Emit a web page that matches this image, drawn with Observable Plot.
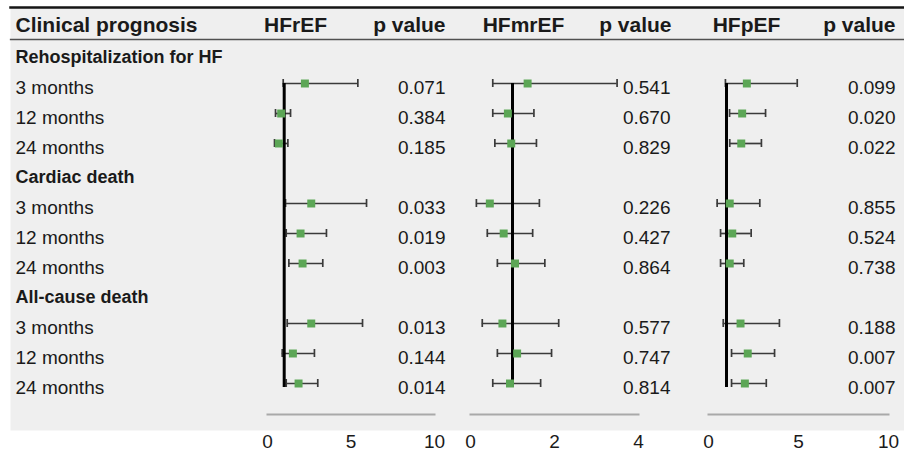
<!DOCTYPE html>
<html>
<head>
<meta charset="utf-8">
<script src="https://cdn.jsdelivr.net/npm/d3@7"></script>
<script src="https://cdn.jsdelivr.net/npm/@observablehq/plot@0.6"></script>
<style>
html, body { margin: 0; padding: 0; background: #fff; }
#chart { position: relative; width: 904px; height: 460px; overflow: hidden; background: #fff; }
#chart svg { position: absolute; top: 0; }
</style>
</head>
<body>
<div id="chart"></div>
<script>
// ---------------- data ----------------
const outcomes = ["Rehospitalization for HF", "Cardiac death", "All-cause death"];
const periods = ["3 months", "12 months", "24 months"];
const groups = ["HFrEF", "HFmrEF", "HFpEF"];
const firstColumnTitle = "Clinical prognosis";
const pColumnTitle = "p value";
const nullValue = 1;

// HFrEF (rows: rehosp 3/12/24, cardiac 3/12/24, all-cause 3/12/24)
const hfrefEst = [2.24, 0.82, 0.68, 2.62, 1.98, 2.10, 2.62, 1.52, 1.86];
const hfrefLo  = [0.94, 0.48, 0.42, 1.08, 1.12, 1.28, 1.18, 0.88, 1.12];
const hfrefHi  = [5.41, 1.38, 1.22, 5.93, 3.53, 3.31, 5.69, 2.81, 3.01];
const hfrefP   = ["0.071", "0.384", "0.185", "0.033", "0.019", "0.003", "0.013", "0.144", "0.014"];
const hfrefTicks = [0, 5, 10];

// HFmrEF
const hfmrefEst = [1.36, 0.89, 0.97, 0.46, 0.79, 1.06, 0.76, 1.11, 0.94];
const hfmrefLo  = [0.53, 0.53, 0.58, 0.14, 0.40, 0.64, 0.28, 0.64, 0.53];
const hfmrefHi  = [3.49, 1.51, 1.57, 1.64, 1.48, 1.77, 2.10, 1.93, 1.67];
const hfmrefP   = ["0.541", "0.670", "0.829", "0.226", "0.427", "0.864", "0.577", "0.747", "0.814"];
const hfmrefTicks = [0, 2, 4];

// HFpEF
const hfpefEst = [2.13, 1.87, 1.82, 1.18, 1.32, 1.18, 1.78, 2.18, 2.02];
const hfpefLo  = [0.94, 1.17, 1.18, 0.48, 0.67, 0.67, 0.82, 1.28, 1.28];
const hfpefHi  = [4.93, 3.17, 2.94, 2.85, 2.37, 1.96, 3.94, 3.67, 3.21];
const hfpefP   = ["0.099", "0.020", "0.022", "0.855", "0.524", "0.738", "0.188", "0.007", "0.007"];
const hfpefTicks = [0, 5, 10];

// ---------------- derived tables ----------------
const perBlock = periods.length + 1;
const rows = outcomes.flatMap((o, i) => [
  {idx: i * perBlock, label: o, section: true},
  ...periods.map((p, j) => ({idx: i * perBlock + 1 + j, label: p, section: false}))
]);
const periodRows = rows.filter(r => !r.section);
const rowCount = rows.length;

const panels = [
  {name: groups[0], est: hfrefEst, lo: hfrefLo, hi: hfrefHi, p: hfrefP, ticks: hfrefTicks},
  {name: groups[1], est: hfmrefEst, lo: hfmrefLo, hi: hfmrefHi, p: hfmrefP, ticks: hfmrefTicks},
  {name: groups[2], est: hfpefEst, lo: hfpefLo, hi: hfpefHi, p: hfpefP, ticks: hfpefTicks}
];

// ---------------- layout / style ----------------
const W = 904, H = 460;
const FONT = '"Liberation Sans", Arial, Helvetica, sans-serif';
const TEXT = "#1a1a1a";
const panelLayout = [
  {left: 250, width: 200, mL: 17, mR: 16, pDx: 11, headerX: 295, pHeaderX: 445},
  {left: 455, width: 220, mL: 15, mR: 37, pDx: 32, headerX: 523, pHeaderX: 671},
  {left: 690, width: 214, mL: 18, mR: 16, pDx: 7,  headerX: 746, pHeaderX: 895}
];
const yOpts = () => ({type: "band", domain: d3.range(rowCount), range: [42, 402], padding: 0, axis: null});
const baseStyle = (extra = {}) => ({background: "transparent", fontFamily: FONT, color: TEXT, overflow: "visible", ...extra});

const container = document.getElementById("chart");
function place(svg, left) {
  svg.style.position = "absolute";
  svg.style.left = left + "px";
  svg.style.top = "0px";
  container.appendChild(svg);
}

// background panel
place(Plot.plot({
  width: W, height: H,
  marginLeft: 10, marginRight: 0, marginTop: 7, marginBottom: 30,
  style: baseStyle(),
  marks: [Plot.frame({fill: "#efefef", stroke: "none"})]
}), 0);

// header row
const headerItems = [
  {text: firstColumnTitle, x: 15, anchor: "start"},
  ...panels.flatMap((p, i) => [
    {text: p.name, x: panelLayout[i].headerX, anchor: "middle"},
    {text: pColumnTitle, x: panelLayout[i].pHeaderX, anchor: "end"}
  ])
];
place(Plot.plot({
  width: W, height: 40,
  marginLeft: 10, marginRight: 0, marginTop: 7, marginBottom: 1,
  style: baseStyle({fontSize: "21px"}),
  marks: [
    Plot.frame({anchor: "top", stroke: "#151515", strokeWidth: 2.5}),
    Plot.frame({anchor: "bottom", stroke: "#505050", strokeWidth: 1.3}),
    ...headerItems.map(h => Plot.text([h.text], {
      frameAnchor: "left", dx: h.x - 10, dy: 2, textAnchor: h.anchor,
      fontSize: 21, fontWeight: "bold", fill: TEXT
    }))
  ]
}), 0);

// row labels
place(Plot.plot({
  width: 250, height: H,
  marginLeft: 15, marginRight: 0, marginTop: 0, marginBottom: 0,
  y: yOpts(),
  style: baseStyle({fontSize: "19px"}),
  marks: [
    Plot.text(rows.filter(r => r.section), {y: "idx", text: "label", frameAnchor: "left", textAnchor: "start", fontSize: 18, fontWeight: "bold", fill: TEXT}),
    Plot.text(periodRows, {y: "idx", text: "label", frameAnchor: "left", textAnchor: "start", fontSize: 19, fill: TEXT})
  ]
}), 0);

// forest panels
panels.forEach((panel, i) => {
  const lay = panelLayout[i];
  const data = periodRows.map((r, k) => ({idx: r.idx, est: panel.est[k], lo: panel.lo[k], hi: panel.hi[k], p: panel.p[k]}));
  const ref = [{x: nullValue, y1: periodRows[0].idx, y2: periodRows[periodRows.length - 1].idx}];
  const ci = {stroke: "#3a3a3a", strokeWidth: 1.7, dy: -4};
  place(Plot.plot({
    width: lay.width, height: H,
    marginLeft: lay.mL, marginRight: lay.mR, marginTop: 7, marginBottom: 46,
    x: {domain: d3.extent(panel.ticks), label: null},
    y: yOpts(),
    style: baseStyle({fontSize: "19px"}),
    marks: [
      Plot.frame({anchor: "bottom", stroke: "#a9a9a9", strokeWidth: 2}),
      Plot.axisX({ticks: panel.ticks, tickFormat: d => String(d), tickSize: 0, tickPadding: 20, fontSize: 19, label: null}),
      Plot.ruleY(data, {y: "idx", x1: "lo", x2: "hi", ...ci}),
      Plot.tickX(data, {x: "lo", y: "idx", insetTop: 11, insetBottom: 11, ...ci}),
      Plot.tickX(data, {x: "hi", y: "idx", insetTop: 11, insetBottom: 11, ...ci}),
      Plot.ruleX(ref, {x: "x", y1: "y1", y2: "y2", stroke: "#000", strokeWidth: 3, insetTop: 15, insetBottom: 11, dy: -4}),
      Plot.dot(data, {x: "est", y: "idx", symbol: "square", r: 4.5, fill: "#5ca656", stroke: "none", dy: -4}),
      Plot.text(data, {y: "idx", text: "p", frameAnchor: "right", textAnchor: "end", dx: lay.pDx, fontSize: 19, fill: TEXT})
    ]
  }), lay.left);
});
</script>
</body>
</html>
